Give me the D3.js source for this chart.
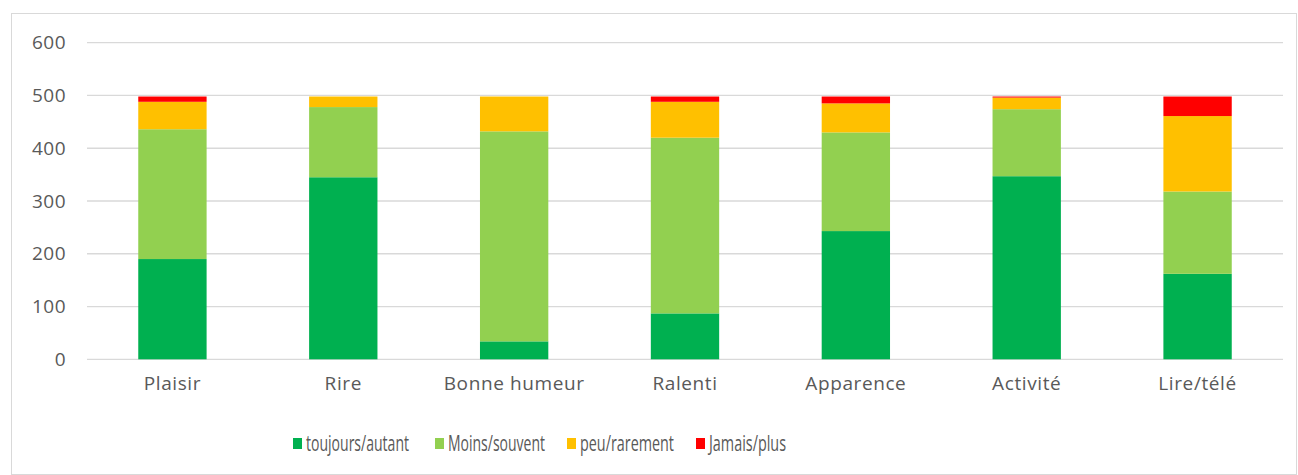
<!DOCTYPE html>
<html>
<head>
<meta charset="utf-8">
<script src="https://cdn.jsdelivr.net/npm/d3@7"></script>
<style>
  body { margin: 0; background: #fff; }
  text { font-family: "Open Sans", "Noto Sans", sans-serif; fill: #595959; }
</style>
</head>
<body>
<div id="chart"></div>
<script>
// categories and series
const categories = ["Plaisir", "Rire", "Bonne humeur", "Ralenti", "Apparence", "Activité", "Lire/télé"];
const seriesNames = ["toujours/autant", "Moins/souvent", "peu/rarement", "Jamais/plus"];
const toujours = [190, 345, 34, 87, 243, 347, 162];
const moins    = [246, 133, 398, 333, 187, 127, 156];
const peu      = [52, 20, 66, 68, 55, 22, 143];
const jamais   = [10, 0, 0, 10, 13, 2, 37];
const yTicks = [0, 100, 200, 300, 400, 500, 600];

const colors = ["#00B050", "#92D050", "#FFC000", "#FF0000"];

const W = 1298, H = 475;
const margin = { top: 42.7, right: 14, bottom: 115.7, left: 87 };
const width = 1283 - margin.left;
const height = 359.3 - margin.top;

const svg = d3.select("#chart").append("svg")
    .attr("width", W)
    .attr("height", H);

// chart frame
svg.append("rect")
    .attr("x", 11.5).attr("y", 13.5)
    .attr("width", W - 13).attr("height", H - 14)
    .attr("fill", "#fff")
    .attr("stroke", "#D9D9D9");

const g = svg.append("g")
    .attr("transform", `translate(${margin.left},${margin.top})`);

// build table for stack
const table = categories.map((c, i) => ({
    cat: c,
    "toujours/autant": toujours[i],
    "Moins/souvent": moins[i],
    "peu/rarement": peu[i],
    "Jamais/plus": jamais[i]
}));

const stacked = d3.stack().keys(seriesNames)(table);

const x = d3.scaleBand()
    .domain(categories)
    .range([0, width])
    .paddingInner(0.6)
    .paddingOuter(0.3);

const y = d3.scaleLinear()
    .domain([0, 600])
    .range([height, 0]);

// gridlines
g.append("g")
    .selectAll("line")
    .data(yTicks)
    .enter().append("line")
    .attr("x1", 0).attr("x2", width)
    .attr("y1", d => y(d)).attr("y2", d => y(d))
    .attr("stroke", "#D9D9D9")
    .attr("stroke-width", 1.3);

// y labels
g.append("g")
    .selectAll("text")
    .data(yTicks)
    .enter().append("text")
    .attr("x", -21)
    .attr("y", d => y(d))
    .attr("dy", "0.35em")
    .attr("text-anchor", "end")
    .style("font-size", "19px")
    .style("letter-spacing", "0.5px")
    .text(d => d);

// bars
g.selectAll(".layer")
    .data(stacked)
    .enter().append("g")
    .attr("class", "layer")
    .attr("fill", (d, i) => colors[i])
    .selectAll("rect")
    .data(d => d)
    .enter().append("rect")
    .attr("x", d => x(d.data.cat))
    .attr("width", x.bandwidth())
    .attr("y", d => y(d[1]))
    .attr("height", d => y(d[0]) - y(d[1]));

// category labels
g.append("g")
    .selectAll("text")
    .data(categories)
    .enter().append("text")
    .attr("x", d => x(d) + x.bandwidth() / 2)
    .attr("y", height + 31)
    .attr("text-anchor", "middle")
    .style("font-size", "19px")
    .style("letter-spacing", "0.6px")
    .text(d => d);

// legend (reference font is condensed, so squeeze the text to its width)
const legendX = [293, 435, 567, 696];
const legendW = [103, 97, 94, 77];
const legend = svg.append("g").attr("class", "legend");
seriesNames.forEach(function(name, i) {
    legend.append("rect")
        .attr("x", legendX[i]).attr("y", 438)
        .attr("width", 9).attr("height", 11)
        .attr("fill", colors[i]);
    legend.append("text")
        .attr("x", legendX[i] + 13)
        .attr("y", 444)
        .attr("dy", "0.35em")
        .attr("textLength", legendW[i])
        .attr("lengthAdjust", "spacingAndGlyphs")
        .style("font-size", "21px")
        .text(name);
});
</script>
</body>
</html>
